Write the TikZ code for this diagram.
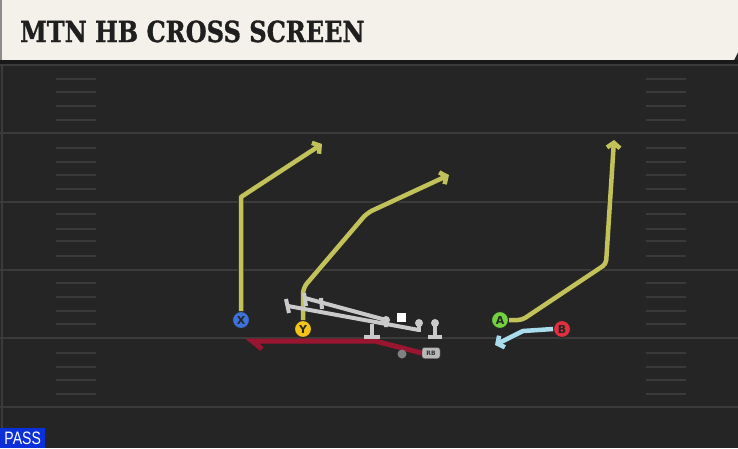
\documentclass[tikz,border=0pt]{standalone}
\usepackage{fontspec}
\setmainfont{DejaVu Sans}
\newfontfamily\titlefont[FakeBold=1.2]{DejaVu Serif}
\newfontfamily\tagfont{Liberation Sans}
\usetikzlibrary{arrows.meta}
\definecolor{fieldbg}{HTML}{252525}
\definecolor{yardgray}{HTML}{3B3B3B}
\definecolor{hashgray}{HTML}{3A3A3A}
\definecolor{headerbg}{HTML}{F4F1EA}
\definecolor{routeyellow}{HTML}{C2C15A}
\definecolor{routeblue}{HTML}{A9DDEE}
\definecolor{routered}{HTML}{9A1530}
\definecolor{olgray}{HTML}{CACACA}
\definecolor{passblue}{HTML}{0B2FD8}
\definecolor{xblue}{HTML}{3D72DA}
\definecolor{yyellow}{HTML}{F3C417}
\definecolor{agreen}{HTML}{72D13C}
\definecolor{bred}{HTML}{E0303F}

\begin{document}
\begin{tikzpicture}[x=1pt,y=-1pt,
	yardline/.style={draw=yardgray,line width=2pt},
	hashmark/.style={draw=hashgray,line width=1.5pt},
	route/.style={line width=4.5pt,line join=round,preaction={draw=black!85,line width=6.5pt}},
	routetip/.style={-{Straight Barb[length=5pt,width=13pt]}},
	player/.style={circle,draw=black!85,line width=1pt,minimum size=17pt,inner sep=0pt,font=\bfseries\fontsize{11}{11}\selectfont,text=black!85},
	lineman/.style={draw=olgray,line width=4pt},
	]
	\useasboundingbox (0,0) rectangle (738,448);
	\fill[fieldbg] (0,0) rectangle (738,448);
	\fill[headerbg] (0,0) -- (738,0) -- (738,52) -- (734,60) -- (0,60) -- cycle;
	\fill[black!45] (0,0) rectangle (2,60);
	\fill[black!90] (0,60) rectangle (738,65);
	\node[anchor=base west,font=\titlefont\bfseries\fontsize{29}{29}\selectfont,text=black!88,xscale=0.83,inner sep=0pt] (title) at (20,42) {MTN HB CROSS SCREEN};

	\foreach \y in {65,133,202,270,338,407}
		\draw[yardline] (0,\y) -- (738,\y);
	\foreach \y in {79,92,106,120,148,162,175,189,214,229,241,256,283,297,311,324,353,367,380,394} {
		\draw[hashmark] (56,\y) -- (96,\y);
		\draw[hashmark] (646,\y) -- (686,\y);
	}
	\draw[yardline] (2,65) -- (2,448);

	\node[player,fill=xblue] (X) at (241,320) {X};
	\node[player,fill=yyellow] (Y) at (303,329) {Y};
	\node[player,fill=agreen] (A) at (500,320) {A};
	\node[player,fill=bred] (B) at (562,329) {B};
	\node[draw=black!70,fill=black!28,rounded corners=2.5pt,minimum width=18pt,minimum height=11pt,inner sep=0pt,font=\bfseries\fontsize{6}{6}\selectfont,text=black!80] (RB) at (431,353) {RB};

	\coordinate (xbend) at (241,197);
	\coordinate (xend) at (322,144);
	\coordinate (ybend1) at (303,288);
	\coordinate (ybend2) at (367,213);
	\coordinate (yend) at (449,175);
	\coordinate (abend1) at (522,320);
	\coordinate (abend2) at (606,264);
	\coordinate (aend) at (614,140);
	\coordinate (bbend) at (523,331);
	\coordinate (bend) at (495,345);
	\coordinate (rbbend) at (375,341);
	\coordinate (rbend) at (245,341);

	\draw[route,draw=routeyellow,routetip] (X.north) -- (xbend) -- (xend);
	\draw[route,draw=routeyellow,routetip,rounded corners=6pt] (Y.north) -- (ybend1) -- (ybend2) -- (yend);
	\draw[route,draw=routeyellow,routetip,rounded corners=4pt] (A.east) -- (abend1) -- (abend2) -- (aend);
	\draw[route,draw=routeblue,routetip] (B.west) -- (bbend) -- (bend);
	\draw[draw=routered,line width=5pt,line join=round,-{Straight Barb[harpoon,length=10pt,width=16pt]}] (RB.west) -- (rbbend) -- (rbend);

	\draw[lineman] (288,306) -- (419,330);
	\draw[lineman] (286,299) -- (289,313);
	\draw[lineman] (419,323) -- (419,332);
	\draw[lineman] (305,298) -- (386,320) -- (386,327);
	\draw[lineman] (304,293) -- (306,306);
	\draw[lineman] (321,298) -- (322,309);
	\fill[olgray] (386,320) circle (4pt);
	\fill[olgray] (419,323) circle (4pt);
	\draw[lineman] (372,324) -- (372,336);
	\draw[lineman] (364,337) -- (380,337);
	\draw[lineman] (435,324) -- (435,336);
	\draw[lineman] (428,337) -- (442,337);
	\fill[olgray] (435,323) circle (4pt);
	\fill[white] (397,313) rectangle (406,322);
	\fill[black!50] (402,354) circle (4.5pt);

	\node[fill=passblue,text=white,anchor=south west,minimum width=45pt,minimum height=20pt,inner sep=0pt,font=\tagfont\fontsize{18}{18}\selectfont] (mode) at (0,448) {\scalebox{0.78}[1]{PASS}};
\end{tikzpicture}
\end{document}
